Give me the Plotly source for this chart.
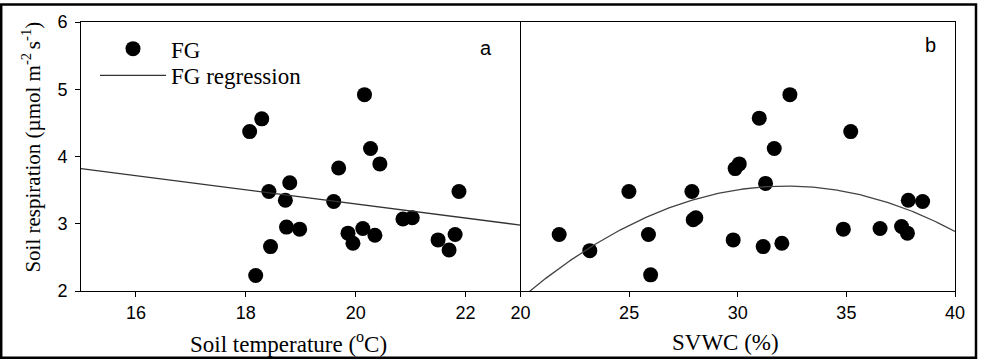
import numpy as np
import plotly.graph_objects as go

# ---- data ----
soil_temp = [18.07, 18.29, 20.16, 20.27, 20.44, 19.69, 18.80, 18.42, 21.88, 18.72,
             19.60, 20.86, 21.03, 18.74, 18.98, 19.86, 20.13, 20.35, 19.95, 18.45,
             21.50, 21.81, 21.70, 18.18]
resp_a = [4.37, 4.56, 4.92, 4.12, 3.89, 3.83, 3.61, 3.48, 3.48, 3.35,
          3.33, 3.07, 3.09, 2.95, 2.92, 2.86, 2.93, 2.83, 2.71, 2.66,
          2.76, 2.84, 2.61, 2.23]

svwc = [32.40, 30.99, 35.20, 31.68, 30.07, 29.88, 31.28, 24.99, 27.89, 37.85,
        38.51, 28.07, 27.95, 21.78, 25.89, 34.86, 36.55, 37.54, 37.81, 29.79,
        31.17, 32.03, 23.19, 25.99]
resp_b = [4.92, 4.57, 4.37, 4.12, 3.89, 3.82, 3.60, 3.48, 3.48, 3.35,
          3.33, 3.09, 3.06, 2.84, 2.84, 2.92, 2.93, 2.96, 2.86, 2.76,
          2.66, 2.71, 2.60, 2.24]

# regression coefficients (estimated from the drawn lines)
lin_coef = [5.395, -0.105]             # y = c0 + c1*T
quad_coef = [-8.075, 0.722, -0.0112]   # y = c0 + c1*W + c2*W^2

x_ticks_a = [16, 18, 20, 22]
x_ticks_b = [20, 25, 30, 35, 40]
y_ticks = [2, 3, 4, 5, 6]

# ---- figure ----
W, H = 983, 362
L, R, T, B = 81, 28, 19, 71
pw, ph = W - L - R, H - T - B

def px(xp):
    return (xp - L) / pw

def py(yp):
    return (H - B - yp) / ph

split = px(520.5)

serif = "Liberation Serif"
sans = "Liberation Sans"

fig = go.Figure()

fig.add_trace(go.Scatter(
    x=soil_temp, y=resp_a, mode="markers", name="FG", legend="legend",
    marker=dict(symbol="circle", size=15, color="black"),
    xaxis="x", yaxis="y"))

tx = np.linspace(15, 23, 50)
fig.add_trace(go.Scatter(
    x=tx, y=lin_coef[0] + lin_coef[1] * tx, mode="lines", name="FG regression",
    legend="legend2",
    line=dict(color="#333333", width=1.3), xaxis="x", yaxis="y"))

fig.add_trace(go.Scatter(
    x=svwc, y=resp_b, mode="markers", name="FG", showlegend=False,
    marker=dict(symbol="circle", size=15, color="black"),
    xaxis="x2", yaxis="y2"))

wx = np.linspace(20, 40, 200)
fig.add_trace(go.Scatter(
    x=wx, y=quad_coef[0] + quad_coef[1] * wx + quad_coef[2] * wx ** 2,
    mode="lines", name="FG regression", showlegend=False,
    line=dict(color="#444444", width=1.3), xaxis="x2", yaxis="y2"))

axis_common = dict(showgrid=False, zeroline=False, showline=True, linecolor="black",
                   linewidth=1, ticks="outside", ticklen=5, tickcolor="black",
                   tickfont=dict(family=sans, size=18, color="black"))

legend_common = dict(xanchor="left", yanchor="middle", bgcolor="rgba(0,0,0,0)",
                     font=dict(family=serif, size=23, color="black"), itemwidth=66)

fig.update_layout(
    width=W, height=H, margin=dict(l=L, r=R, t=T, b=B),
    paper_bgcolor="white", plot_bgcolor="white",
    showlegend=True,
    legend=dict(x=px(95), y=py(46), **legend_common),
    legend2=dict(x=px(95), y=py(73), **legend_common),
    xaxis=dict(domain=[0, split], range=[15, 23], tickvals=x_ticks_a, mirror=True,
               anchor="y", **axis_common),
    yaxis=dict(domain=[0, 1], range=[2, 6], tickvals=y_ticks, anchor="x",
               ticklabelstandoff=4, **axis_common),
    xaxis2=dict(domain=[split, 1], range=[20, 40], tickvals=x_ticks_b, mirror=True,
                anchor="y2", **axis_common),
    yaxis2=dict(domain=[0, 1], range=[2, 6], anchor="x2", showgrid=False, zeroline=False,
                showline=True, mirror=True, linecolor="black", linewidth=1,
                showticklabels=False, ticks=""),
)

annotations = [
    dict(text="Soil temperature (<sup>o</sup>C)", x=px(288), y=py(343), xref="paper",
         yref="paper", showarrow=False, xanchor="center", yanchor="middle",
         font=dict(family=serif, size=23, color="black")),
    dict(text="SVWC (%)", x=px(725), y=py(343), xref="paper", yref="paper",
         showarrow=False, xanchor="center", yanchor="middle",
         font=dict(family=serif, size=23, color="black")),
    dict(text="Soil respiration (µmol m<sup>-2 </sup>s<sup>-1</sup>)", x=px(32), y=py(146),
         xref="paper", yref="paper", showarrow=False, textangle=-90,
         xanchor="center", yanchor="middle",
         font=dict(family=serif, size=21, color="black")),
    dict(text="a", x=px(486), y=py(45), xref="paper", yref="paper", showarrow=False,
         xanchor="center", yanchor="middle", font=dict(family=sans, size=20, color="black")),
    dict(text="b", x=px(930), y=py(42), xref="paper", yref="paper", showarrow=False,
         xanchor="center", yanchor="middle", font=dict(family=sans, size=20, color="black")),
]
fig.update_layout(annotations=annotations)

fig.add_shape(type="rect", xref="paper", yref="paper",
              x0=px(1.2), x1=px(976), y0=py(358.5), y1=py(1.2),
              line=dict(color="black", width=2.5), fillcolor="rgba(0,0,0,0)", layer="above")

fig.write_html("out.html", config={"displayModeBar": False},
               post_script="document.body.style.margin='0';document.body.style.overflow='hidden';")
